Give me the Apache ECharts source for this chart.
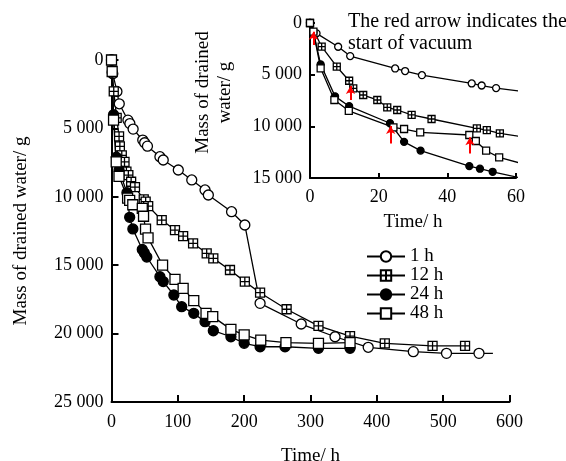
<!DOCTYPE html>
<html>
<head>
<meta charset="utf-8">
<script src="https://cdn.jsdelivr.net/npm/echarts@6/dist/echarts.min.js"></script>
<style>
  html, body { margin: 0; padding: 0; background: #fff; }
  #chart { width: 566px; height: 461px; }
</style>
</head>
<body>
<div id="chart"></div>
<script>
  // drained water, each point is [time h, mass g]
  var h1 = [[0,0],[1.9,1000],[8.2,2300],[11.7,3200],[24.8,4400],[27.7,4650],[32.6,5050],[47.1,5850],[50,6050],[54.2,6300],
    [73,7070],[78,7310],[100.7,8040],[121,8770],[141,9500],[146,9870],[181,11090],[201,12060],[224,17790],[286,19300],
    [337,20230],[387,21000],[455,21320],[505,21440],[554,21440],{value:[575,21450], symbol:'none'}]
  var h12 = [[0,0],[3.4,2290],[7.8,4230],[11.4,5590],[12.6,6320],[15.5,6970],[19.6,7450],[22.5,8160],[25.4,8420],[29.6,8900],
    [35.4,9290],[48.6,10190],[51.5,10360],[55.3,10680],[75.7,11700],[95.7,12430],[108,12870],[123,13400],[143.5,14130],
    [153.5,14500],[178.6,15350],[201,16200],[224,17010],[264,18220],[312,19440],[359.6,20180],[412,20710],[484,20900],[533,20900]]
  var h24 = [[0,0],[1,900],[3.1,4000],[7.3,7100],[11.4,8050],[23.3,9700],[27.4,11500],[32.2,12350],[46.4,13850],[49.5,14100],
    [53.2,14400],[73,15840],[78,16200],[94,17180],[105.8,18030],[124,18520],[141,19130],[153.5,19790],[180,20230],[200,20710],
    [224,20960],[261.6,20960],[312,21080],[359.6,21080]]
  var h48 = [[0,0],[1,840],[3.1,4390],[7.1,7450],[11.3,8500],[24.3,10100],[27.4,10260],[32.1,10580],[46.4,10840],[48.3,11420],
    [51.3,12360],[55.1,13000],[77,14990],[95.7,16030],[108,16690],[124,17590],[142.5,18520],[152.6,18760],[180,19690],
    [200,20100],[225,20470],[263,20660],[312,20710],[359.6,20660]]
  var names = ['1 h', '12 h', '24 h', '48 h']

  // start of vacuum (red arrows in the small chart)
  var vacuumTimes = [1, 11.8, 23.5, 46.6]
  var arrowTip = [840, 6100, 9970, 11060]
  var arrowTail = [2130, 7450, 11650, 12620]

  // axis ticks
  var xTicksMain = [0, 100, 200, 300, 400, 500, 600]
  var yTicksMain = [0, 5000, 10000, 15000, 20000, 25000]
  var xTicksInset = [0, 20, 40, 60]
  var yTicksInset = [0, 5000, 10000, 15000]

  var font = 'Liberation Serif'
  var crossSquare = 'path://M0,0L10,0L10,10L0,10Z M5,0L5,10 M0,5L10,5'
  var marks = {
    '1 h': {symbol: 'circle', fill: '#fff'},
    '12 h': {symbol: crossSquare, fill: '#fff'},
    '24 h': {symbol: 'circle', fill: '#000'},
    '48 h': {symbol: 'rect', fill: '#fff'},
  }

  function fmt (v) {
    if (v < 1000) return '' + v
    var r = '00' + (v % 1000)
    return Math.floor(v / 1000) + ' ' + r.slice(-3)
  }

  function makeSeries (name, data, idx, size) {
    return {
      name: name,
      type: 'line',
      xAxisIndex: idx,
      yAxisIndex: idx,
      data: data,
      symbol: marks[name].symbol,
      symbolSize: size,
      clip: true,
      lineStyle: {color: '#000', width: 1.3},
      itemStyle: {color: marks[name].fill, borderColor: '#000', borderWidth: 1.3},
      emphasis: {disabled: true},
    }
  }

  function valueAxis (ticks, idx, extra) {
    var ax = {
      type: 'value',
      gridIndex: idx,
      min: ticks[0],
      max: ticks[ticks.length - 1],
      interval: ticks[1] - ticks[0],
      splitLine: {show: false},
      axisLine: {show: true, onZero: false, lineStyle: {color: '#000', width: 2}},
      axisTick: {show: true, inside: true, length: idx === 0 ? 7 : 5, lineStyle: {color: '#000', width: 2}},
      axisLabel: {color: '#000', fontFamily: font, fontSize: 18, formatter: fmt},
      nameLocation: 'middle',
      nameTextStyle: {color: '#000', fontFamily: font, fontSize: 19},
    }
    for (var k in extra) ax[k] = extra[k]
    return ax
  }

  var allData = [h1, h12, h24, h48]
  var series = []
  names.forEach(function (n, i) { series.push(makeSeries(n, allData[i], 0, i === 1 ? 9 : 10)) })
  names.forEach(function (n, i) { series.push(makeSeries(n, allData[i], 1, 7)) })
  series.push({
    name: 'vacuum',
    type: 'line',
    xAxisIndex: 1,
    yAxisIndex: 1,
    data: [],
    markLine: {
      silent: true,
      symbol: ['none', 'arrow'],
      symbolSize: [7, 8],
      label: {show: false},
      lineStyle: {color: '#ff0000', width: 2, type: 'solid'},
      data: vacuumTimes.map(function (t, i) {
        return [{coord: [t, arrowTail[i]]}, {coord: [t, arrowTip[i]]}]
      }),
    },
  })

  var chart = echarts.init(document.getElementById('chart'))
  var option = {
    animation: false,
    backgroundColor: '#fff',
    title: {
      text: 'The red arrow indicates the\nstart of vacuum',
      left: 343,
      top: 6,
      textStyle: {color: '#000', fontFamily: font, fontSize: 20, fontWeight: 'normal', lineHeight: 22},
    },
    legend: {
      data: names,
      orient: 'vertical',
      left: 361,
      top: 242,
      itemWidth: 38,
      itemHeight: 13,
      itemGap: 0,
      textStyle: {color: '#000', fontFamily: font, fontSize: 19, lineHeight: 18},
    },
    grid: [
      {left: 111.5, right: 56.5, top: 60, bottom: 59, outerBoundsMode: 'none'},
      {left: 310, right: 50, top: 23, bottom: 283, outerBoundsMode: 'none'},
    ],
    xAxis: [
      valueAxis(xTicksMain, 0, {name: 'Time/ h', nameGap: 45, position: 'bottom',
        axisLabel: {color: '#000', fontFamily: font, fontSize: 18, margin: 11}}),
      valueAxis(xTicksInset, 1, {name: 'Time/ h', nameGap: 35, position: 'bottom',
        axisLabel: {color: '#000', fontFamily: font, fontSize: 18, margin: 10}}),
    ],
    yAxis: [
      valueAxis(yTicksMain, 0, {name: 'Mass of drained water/ g', nameGap: 81, inverse: true}),
      valueAxis(yTicksInset, 1, {name: 'Mass of drained\nwater/ g', nameGap: 74, inverse: true,
        nameTextStyle: {color: '#000', fontFamily: font, fontSize: 19, lineHeight: 22, padding: [0, 0, 0, 16]}}),
    ],
    series: series,
  }
  chart.setOption(option)
</script>
</body>
</html>
